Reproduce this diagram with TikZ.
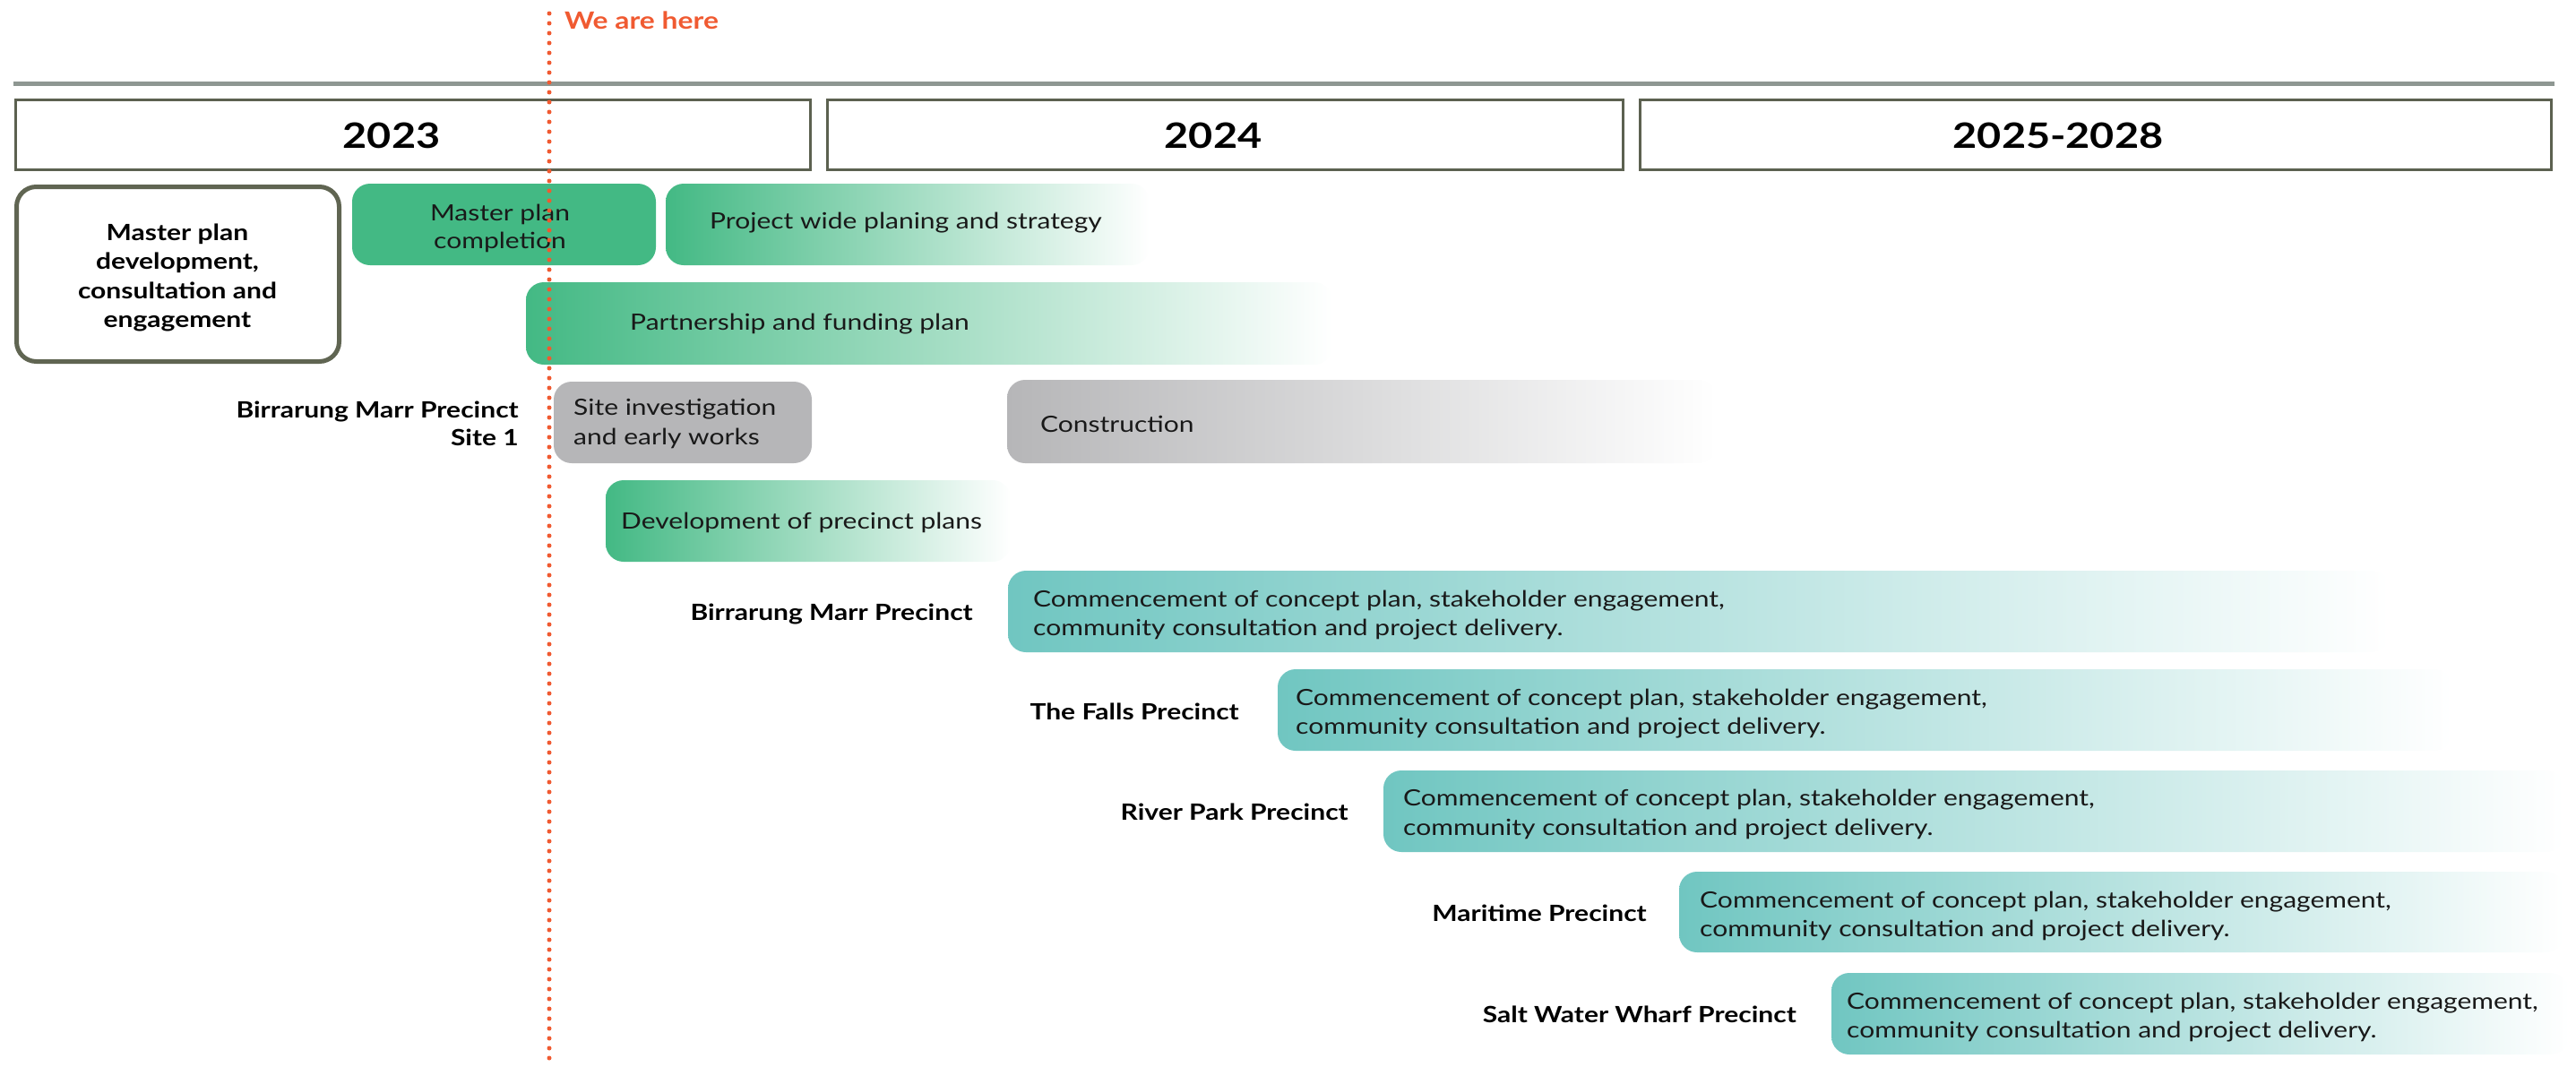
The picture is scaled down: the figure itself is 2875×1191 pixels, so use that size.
\documentclass[tikz,border=0pt]{standalone}
\usepackage{fontspec}
\setmainfont{Lato}[FakeStretch=1.2]
\definecolor{mpgreen}{HTML}{43B984}
\definecolor{sitegray}{HTML}{B6B6B8}
\definecolor{tealc}{HTML}{70C6C1}
\definecolor{yearline}{HTML}{5C6150}
\definecolor{outlinec}{HTML}{606552}
\definecolor{topline}{HTML}{8E9792}
\definecolor{herered}{HTML}{F05A31}
\tikzset{
  yearbox/.style={draw=yearline, line width=3pt, fill=white, inner sep=0pt},
  yeartxt/.style={font=\fontsize{39}{44}\selectfont\bfseries, anchor=base, inner sep=0pt},
  bartxt/.style={font=\fontsize{25}{32}\selectfont, anchor=base west, inner sep=0pt, text=black!90},
  ctrtxt/.style={font=\fontsize{25}{32}\selectfont, anchor=base, inner sep=0pt, text=black!90},
  boldctr/.style={font=\fontsize{25}{32}\selectfont\bfseries, anchor=base, inner sep=0pt},
  lbltxt/.style={font=\fontsize{25}{32}\selectfont\bfseries, anchor=base east, inner sep=0pt},
  barbox/.style={rounded corners=20pt, inner sep=0pt, draw=none},
  greenfade/.style={barbox, left color=mpgreen, right color=white},
  grayfade/.style={barbox, left color=sitegray, right color=white},
  tealfade/.style={barbox, left color=tealc, middle color=tealc!58, right color=white},
}
\begin{document}
\begin{tikzpicture}[x=1pt,y=-1pt]
\useasboundingbox (0,0) rectangle (2875,1191);
% top rule
\coordinate (tlA) at (15,93);
\coordinate (tlB) at (2851,93);
\draw[topline, line width=5pt] (tlA) -- (tlB);
% year boxes
\node[yearbox, minimum width=887pt, minimum height=78pt] (y1) at (461,150.5) {};
\node[yearbox, minimum width=888pt, minimum height=78pt] (y2) at (1367.5,150.5) {};
\node[yearbox, minimum width=1017pt, minimum height=78pt] (y3) at (2339,150.5) {};
\node[yeartxt] (y1t) at (437,165) {2023};
\node[yeartxt] (y2t) at (1354,165) {2024};
\node[yeartxt] (y3t) at (2297,165) {2025-2028};
% master plan outline box
\node[draw=outlinec, line width=5pt, rounded corners=22pt, fill=white, minimum width=360pt, minimum height=195pt, inner sep=0pt] (mpbox) at (198.5,306) {};
\node[boldctr] (mp1) at (198,268) {Master plan};
\node[boldctr] (mp2) at (198,300) {development,};
\node[boldctr] (mp3) at (198,333) {consultation and};
\node[boldctr] (mp4) at (198,365) {engagement};
% master plan completion
\node[barbox, fill=mpgreen, minimum width=339pt, minimum height=91pt] (mpc) at (562.5,250.5) {};
\node[ctrtxt] (mpc1) at (558,246) {Master plan};
\node[ctrtxt] (mpc2) at (558,277) {completion};
% project wide
\node[greenfade, minimum width=540pt, minimum height=91pt] (pw) at (1013,250.5) {};
\node[bartxt] (pwt) at (792,255) {Project wide planing and strategy};
% partnership
\node[greenfade, minimum width=900pt, minimum height=92pt] (pf) at (1037,361) {};
\node[bartxt] (pft) at (703,368) {Partnership and funding plan};
% site 1 label
\node[lbltxt] (s1a) at (579,466) {Birrarung Marr Precinct};
\node[lbltxt] (s1b) at (579,497) {Site 1};
% site investigation
\node[barbox, fill=sitegray, minimum width=288pt, minimum height=91pt] (si) at (762,471.5) {};
\node[bartxt] (si1) at (640,463) {Site investigation};
\node[bartxt] (si2) at (640,496) {and early works};
% construction
\node[grayfade, minimum width=792pt, minimum height=93pt] (co) at (1520,470.5) {};
\node[bartxt] (cot) at (1161,482) {Construction};
% development
\node[greenfade, minimum width=452pt, minimum height=91pt] (dp) at (902,581.5) {};
\node[bartxt] (dpt) at (693,590) {Development of precinct plans};
% precinct rows
\node[tealfade, minimum width=1542pt, minimum height=91pt] (p1) at (1896,682.5) {};
\node[lbltxt] (p1l) at (1086,692) {Birrarung Marr Precinct};
\node[bartxt] (p1a) at (1153,677) {Commencement of concept plan, stakeholder engagement,};
\node[bartxt] (p1b) at (1153,709) {community consultation and project delivery.};

\node[tealfade, minimum width=1311pt, minimum height=91pt] (p2) at (2081.5,792.5) {};
\node[lbltxt] (p2l) at (1383,803) {The Falls Precinct};
\node[bartxt] (p2a) at (1446,787) {Commencement of concept plan, stakeholder engagement,};
\node[bartxt] (p2b) at (1446,819) {community consultation and project delivery.};

\node[tealfade, minimum width=1318pt, minimum height=91pt] (p3) at (2203,905.5) {};
\node[lbltxt] (p3l) at (1505,915) {River Park Precinct};
\node[bartxt] (p3a) at (1566,899) {Commencement of concept plan, stakeholder engagement,};
\node[bartxt] (p3b) at (1566,932) {community consultation and project delivery.};

\node[tealfade, minimum width=988pt, minimum height=90pt] (p4) at (2368,1018) {};
\node[lbltxt] (p4l) at (1838,1028) {Maritime Precinct};
\node[bartxt] (p4a) at (1897,1013) {Commencement of concept plan, stakeholder engagement,};
\node[bartxt] (p4b) at (1897,1045) {community consultation and project delivery.};

\node[tealfade, minimum width=823pt, minimum height=91pt] (p5) at (2455.5,1131.5) {};
\node[lbltxt] (p5l) at (2005,1141) {Salt Water Wharf Precinct};
\node[bartxt] (p5a) at (2061,1126) {Commencement of concept plan, stakeholder engagement,};
\node[bartxt] (p5b) at (2061,1158) {community consultation and project delivery.};
% we are here
\coordinate (rtop) at (613,15);
\coordinate (rbot) at (613,1191);
\draw[herered, line width=5pt, line cap=round, dash pattern=on 0pt off 11pt] (rtop) -- (rbot);
\node[font=\fontsize{26.5}{30}\selectfont\bfseries, text=herered, anchor=base west, inner sep=0pt] (weh) at (630,32) {We are here};
\end{tikzpicture}
\end{document}
